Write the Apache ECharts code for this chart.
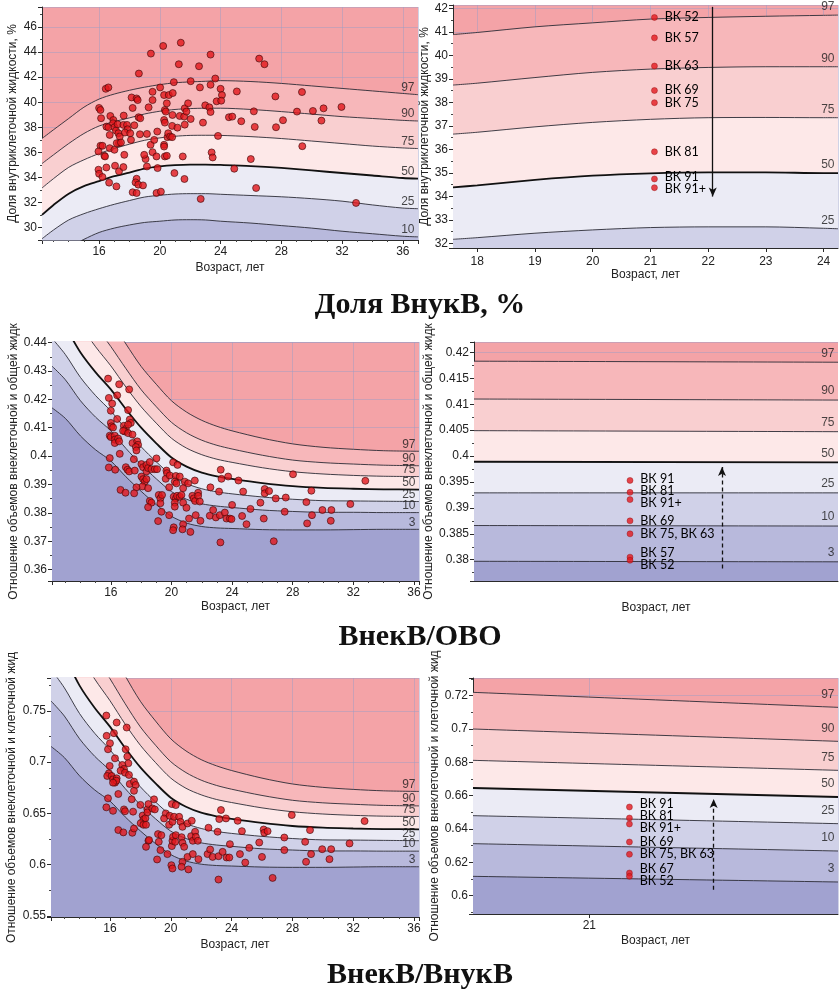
<!DOCTYPE html>
<html><head><meta charset="utf-8">
<script src="https://cdn.jsdelivr.net/npm/echarts@6/dist/echarts.min.js"></script>
<style>html,body{margin:0;padding:0;background:#fff}#c{width:840px;height:998px}</style>
</head><body><div id="c"></div>
<script>
// ================= DATA =================
const centileNames = ['97', '90', '75', '50', '25', '10', '3'];

// --- Panel A: share of intracellular water, % (full age range) ---
const agesA = [12.24, 13, 14, 15, 16, 17, 18, 19, 20, 21, 22, 23, 24, 26, 28, 30, 32, 34, 36, 37];
const icwA97 = [37.1, 37.8, 38.7, 39.6, 40.25, 40.65, 40.95, 41.2, 41.4, 41.55, 41.62, 41.67, 41.72, 41.65, 41.5, 41.3, 41.1, 40.9, 40.7, 40.6];
const icwA90 = [35.1, 35.8, 36.7, 37.5, 38.1, 38.45, 38.75, 39.06, 39.28, 39.42, 39.49, 39.52, 39.52, 39.42, 39.25, 39.05, 38.85, 38.7, 38.55, 38.5];
const icwA75 = [33.15, 33.9, 34.8, 35.4, 35.9, 36.3, 36.65, 36.96, 37.15, 37.28, 37.35, 37.36, 37.35, 37.25, 37.1, 36.9, 36.7, 36.5, 36.35, 36.3];
const icwA50 = [31.0, 31.8, 32.7, 33.3, 33.7, 34.1, 34.38, 34.7, 34.88, 34.98, 35.02, 35.02, 34.99, 34.9, 34.75, 34.55, 34.35, 34.15, 33.95, 33.9];
const icwA25 = [29.1, 29.8, 30.6, 31.1, 31.5, 31.85, 32.15, 32.43, 32.57, 32.67, 32.7, 32.7, 32.65, 32.55, 32.45, 32.3, 32.1, 31.8, 31.55, 31.5];
const icwA10 = [26.7, 27.5, 28.4, 29.05, 29.6, 29.95, 30.2, 30.4, 30.5, 30.6, 30.62, 30.6, 30.5, 30.35, 30.15, 29.95, 29.7, 29.5, 29.3, 29.25];
const icwPoints = [[16.0,39.54],[16.09,39.38],[16.13,38.72],[16.09,36.52],[16.22,36.52],[15.96,36.07],[15.96,34.61],[16.0,34.29],[16.22,34.03],[16.44,41.07],[16.61,41.18],[16.48,38.05],[16.61,38.0],[16.35,35.72],[16.39,35.67],[16.48,34.79],[16.66,33.58],[16.74,38.9],[16.7,37.39],[16.7,36.33],[16.94,38.58],[16.92,38.32],[17.01,38.0],[17.11,37.74],[17.27,37.52],[17.01,36.2],[17.05,34.93],[17.14,33.28],[17.22,38.24],[17.36,37.26],[17.31,36.73],[17.16,36.73],[17.44,36.78],[17.31,34.48],[17.6,38.19],[17.62,38.93],[17.66,35.8],[17.6,34.82],[17.84,38.19],[17.88,37.84],[17.7,37.58],[18.05,37.52],[18.1,36.99],[18.14,40.38],[18.21,39.54],[18.32,38.16],[18.21,32.81],[18.47,40.3],[18.54,40.17],[18.47,33.89],[18.4,33.6],[18.58,33.42],[18.89,33.36],[18.47,32.75],[18.62,42.29],[18.6,38.8],[18.71,38.72],[18.69,37.44],[19.06,35.46],[18.97,35.8],[19.15,37.47],[19.15,34.87],[19.26,39.59],[19.39,36.6],[19.41,43.88],[19.52,40.83],[19.52,40.17],[19.52,36.01],[19.63,36.99],[19.78,35.67],[19.83,37.66],[19.85,34.74],[19.78,32.75],[20.07,32.86],[20.02,41.18],[20.22,44.49],[20.28,40.57],[20.28,36.6],[20.28,36.46],[20.33,39.38],[20.39,39.25],[20.28,38.58],[20.33,38.37],[20.33,35.67],[20.46,35.72],[20.46,39.91],[20.5,37.21],[20.55,37.52],[20.59,40.57],[20.68,37.26],[20.81,37.21],[20.83,38.98],[20.81,38.11],[20.85,40.73],[20.92,41.6],[20.96,34.34],[21.16,37.97],[21.25,43.03],[21.38,44.75],[21.31,38.9],[21.51,35.67],[21.6,38.85],[21.64,38.21],[21.64,39.51],[21.75,39.25],[21.62,33.87],[21.86,39.91],[22.03,41.68],[22.03,38.66],[22.58,42.87],[22.64,41.18],[22.69,32.28],[22.84,38.37],[22.99,39.75],[23.26,39.59],[23.34,41.39],[23.34,39.22],[23.34,43.8],[23.41,35.99],[23.48,35.59],[23.65,41.89],[23.74,40.07],[23.83,37.31],[24.0,41.07],[24.09,40.57],[24.04,40.12],[24.55,38.8],[24.77,38.85],[24.9,34.69],[25.07,40.86],[25.36,38.48],[25.99,35.46],[26.19,39.27],[26.25,38.03],[26.34,33.15],[26.54,43.48],[26.89,43.03],[27.61,40.46],[27.65,38.0],[28.11,38.56],[29.03,39.25],[29.36,40.81],[29.38,36.49],[30.08,39.3],[30.64,38.53],[30.78,39.51],[31.96,39.62],[32.92,31.96]];

// --- Panel B: share of intracellular water, % (zoomed) ---
const agesB = [17.58, 18, 19, 20, 21, 22, 23, 24, 24.25];
const icwB97 = [40.89, 40.98, 41.22, 41.39, 41.55, 41.62, 41.67, 41.71, 41.72];
const icwB90 = [38.74, 38.82, 39.06, 39.28, 39.42, 39.49, 39.52, 39.52, 39.52];
const icwB75 = [36.65, 36.73, 36.96, 37.15, 37.28, 37.35, 37.36, 37.35, 37.35];
const icwB50 = [34.38, 34.47, 34.7, 34.88, 34.98, 35.02, 35.02, 34.99, 34.99];
const icwB25 = [32.17, 32.24, 32.43, 32.57, 32.67, 32.7, 32.7, 32.64, 32.62];
const vkNamesB = ['ВК 52', 'ВК 57', 'ВК 63', 'ВК 69', 'ВК 75', 'ВК 81', 'ВК 91', 'ВК 91+'];
const vkValuesB = [41.62, 40.75, 39.55, 38.51, 37.99, 35.90, 34.74, 34.37];
const vkAgeB = 21.07;
const arrowB = { age: 22.08, from: 42.07, to: 33.99 };

// --- Panel C: ECW / TBW (full age range) ---
const agesC = [12.12, 13, 14, 15, 16, 17, 18, 19, 20, 21, 22, 23, 24, 26, 28, 30, 32, 34, 36.33];
const ecwC97 = [0.4858, 0.4766, 0.4649, 0.4558, 0.4478, 0.4395, 0.4316, 0.4253, 0.4195, 0.4155, 0.4126, 0.4105, 0.4089, 0.4063, 0.4043, 0.4031, 0.4024, 0.4019, 0.4017];
const ecwC90 = [0.4730, 0.4648, 0.4541, 0.4459, 0.4386, 0.4308, 0.4234, 0.4174, 0.4119, 0.4082, 0.4056, 0.4038, 0.4025, 0.4003, 0.3986, 0.3977, 0.3972, 0.3968, 0.3966];
const ecwC75 = [0.4635, 0.4561, 0.4462, 0.4385, 0.4318, 0.4243, 0.4174, 0.4116, 0.4063, 0.4028, 0.4005, 0.3989, 0.3978, 0.3959, 0.3945, 0.3937, 0.3932, 0.3929, 0.3928];
const ecwC50 = [0.4520, 0.4455, 0.4365, 0.4295, 0.4235, 0.4165, 0.4100, 0.4045, 0.3995, 0.3963, 0.3942, 0.3929, 0.3920, 0.3905, 0.3894, 0.3888, 0.3885, 0.3883, 0.3882];
const ecwC25 = [0.4415, 0.4358, 0.4277, 0.4213, 0.4159, 0.4094, 0.4033, 0.3980, 0.3933, 0.3903, 0.3885, 0.3874, 0.3867, 0.3856, 0.3848, 0.3843, 0.3842, 0.3841, 0.3840];
const ecwC10 = [0.4317, 0.4269, 0.4195, 0.4137, 0.4089, 0.4027, 0.3970, 0.3920, 0.3875, 0.3848, 0.3832, 0.3824, 0.3819, 0.3810, 0.3805, 0.3802, 0.3802, 0.3801, 0.3801];
const ecwC3 = [0.4170, 0.4133, 0.4071, 0.4022, 0.3983, 0.3927, 0.3876, 0.3829, 0.3788, 0.3764, 0.3752, 0.3747, 0.3745, 0.3741, 0.3740, 0.3740, 0.3741, 0.3742, 0.3742];
const ecwPoints = [[15.82,0.4273],[15.87,0.4205],[16.09,0.4185],[16.0,0.416],[16.0,0.4117],[16.04,0.4105],[16.15,0.4101],[16.42,0.4214],[16.55,0.4253],[17.21,0.4235],[16.42,0.4131],[15.93,0.4072],[16.0,0.4067],[16.26,0.4072],[16.26,0.4058],[16.26,0.4046],[16.48,0.4062],[16.55,0.4052],[16.86,0.4107],[16.99,0.4096],[16.92,0.4087],[17.14,0.4162],[17.25,0.4129],[17.32,0.4117],[17.14,0.4111],[16.81,0.4089],[17.14,0.4081],[17.43,0.4076],[17.43,0.4046],[17.74,0.4052],[17.8,0.404],[17.65,0.4032],[17.69,0.402],[16.59,0.4008],[15.93,0.3993],[15.87,0.396],[16.29,0.3952],[16.99,0.3961],[17.1,0.3952],[17.21,0.3946],[17.52,0.3989],[17.58,0.3949],[18.02,0.3972],[18.13,0.3961],[18.35,0.3969],[18.35,0.3946],[18.46,0.3958],[18.57,0.3979],[18.68,0.3954],[18.9,0.3954],[19.05,0.3954],[19.01,0.3992],[18.02,0.3928],[18.13,0.3919],[18.24,0.391],[18.35,0.3919],[18.09,0.3893],[18.46,0.3887],[17.69,0.389],[17.54,0.3869],[16.64,0.3881],[16.97,0.3871],[18.57,0.3842],[18.68,0.3836],[18.46,0.382],[19.16,0.3863],[19.27,0.3851],[19.38,0.3863],[19.27,0.3834],[19.34,0.3804],[19.12,0.3771],[19.67,0.3949],[19.71,0.394],[19.62,0.392],[19.89,0.3932],[19.85,0.389],[19.85,0.3792],[20.11,0.3978],[20.4,0.3969],[20.29,0.393],[20.55,0.3928],[20.22,0.391],[20.33,0.3904],[20.15,0.3857],[20.29,0.3851],[20.37,0.386],[20.22,0.3836],[20.22,0.3822],[20.55,0.3857],[20.66,0.3863],[20.77,0.3887],[20.88,0.391],[20.77,0.3836],[20.15,0.3749],[20.11,0.3739],[20.77,0.376],[20.73,0.3742],[20.99,0.3818],[21.1,0.3904],[21.16,0.378],[21.25,0.3733],[21.38,0.386],[21.47,0.3851],[21.54,0.3914],[21.56,0.3842],[21.6,0.3792],[21.76,0.3871],[21.76,0.386],[21.87,0.384],[21.91,0.3772],[22.53,0.379],[22.57,0.389],[22.75,0.381],[22.93,0.3784],[23.14,0.3875],[23.19,0.3792],[23.25,0.3952],[23.3,0.392],[23.23,0.3696],[23.52,0.3801],[23.63,0.378],[23.74,0.3928],[23.85,0.378],[24.0,0.3828],[23.96,0.3778],[24.42,0.3914],[24.66,0.3789],[24.73,0.3875],[24.95,0.376],[25.21,0.3814],[25.87,0.3836],[26.15,0.3884],[26.15,0.3869],[26.09,0.378],[26.44,0.3877],[26.88,0.3851],[27.47,0.3804],[27.54,0.3854],[28.02,0.3936],[26.75,0.37],[28.9,0.3838],[28.95,0.3763],[29.23,0.3878],[29.27,0.3792],[29.96,0.381],[30.51,0.3772],[30.55,0.381],[31.8,0.3831],[32.79,0.3913]];

// --- Panel D: ECW / TBW (zoomed) ---
const agesD = [20.71, 21.62];
const ecwD97 = [0.4183, 0.4181];
const ecwD90 = [0.4110, 0.4108];
const ecwD75 = [0.4049, 0.4047];
const ecwD50 = [0.3989, 0.3988];
const ecwD25 = [0.3929, 0.3929];
const ecwD10 = [0.3866, 0.3865];
const ecwD3 = [0.3797, 0.3796];
const vkNamesD = ['ВК 91', 'ВК 81', 'ВК 91+', 'ВК 69', 'ВК 75, ВК 63', 'ВК 57', 'ВК 52'];
const vkValuesD = [0.3953, 0.3930, 0.3916, 0.3875, 0.3850, 0.3805, 0.3799];
const vkAgeD = 21.10;
const arrowD = { age: 21.33, from: 0.3783, to: 0.3979 };

// --- Panel E: ECW / ICW (full age range) ---
const agesE = [12.12, 13, 14, 15, 16, 17, 18, 19, 20, 21, 22, 23, 24, 26, 28, 30, 32, 34, 36.33];
const ratioE97 = [0.9448, 0.9106, 0.8688, 0.8376, 0.8109, 0.7841, 0.7593, 0.7400, 0.7227, 0.7109, 0.7024, 0.6964, 0.6918, 0.6844, 0.6787, 0.6754, 0.6734, 0.6720, 0.6714];
const ratioE90 = [0.8975, 0.8685, 0.8318, 0.8047, 0.7813, 0.7569, 0.7343, 0.7164, 0.7004, 0.6898, 0.6824, 0.6773, 0.6736, 0.6675, 0.6628, 0.6603, 0.6589, 0.6578, 0.6573];
const ratioE75 = [0.8639, 0.8386, 0.8057, 0.7809, 0.7599, 0.7370, 0.7164, 0.6995, 0.6844, 0.6745, 0.6681, 0.6636, 0.6606, 0.6554, 0.6516, 0.6494, 0.6481, 0.6473, 0.6470];
const ratioE50 = [0.8248, 0.8034, 0.7746, 0.7528, 0.7346, 0.7138, 0.6949, 0.6793, 0.6653, 0.6565, 0.6507, 0.6472, 0.6447, 0.6407, 0.6377, 0.6361, 0.6353, 0.6347, 0.6345];
const ratioE25 = [0.7905, 0.7724, 0.7473, 0.7280, 0.7120, 0.6932, 0.6759, 0.6611, 0.6483, 0.6401, 0.6353, 0.6324, 0.6305, 0.6276, 0.6255, 0.6242, 0.6240, 0.6237, 0.6234];
const ratioE10 = [0.7596, 0.7449, 0.7227, 0.7056, 0.6918, 0.6742, 0.6584, 0.6447, 0.6327, 0.6255, 0.6213, 0.6192, 0.6179, 0.6155, 0.6143, 0.6134, 0.6134, 0.6132, 0.6132];
const ratioE3 = [0.7153, 0.7044, 0.6866, 0.6728, 0.6620, 0.6466, 0.6329, 0.6205, 0.6098, 0.6036, 0.6005, 0.5992, 0.5987, 0.5977, 0.5974, 0.5974, 0.5977, 0.5980, 0.5980];
const ratioPoints = [[15.76,0.7454],[15.78,0.7256],[16.0,0.7184],[15.87,0.7125],[15.98,0.6963],[15.93,0.6891],[15.82,0.6865],[15.87,0.6647],[15.76,0.6559],[16.44,0.7386],[16.26,0.7282],[16.33,0.7037],[16.11,0.6865],[16.2,0.6832],[16.33,0.68],[16.44,0.6842],[16.42,0.6819],[16.2,0.68],[16.55,0.6689],[17.1,0.7337],[17.03,0.7125],[17.14,0.7054],[17.21,0.6989],[16.81,0.6972],[16.92,0.6933],[16.7,0.6917],[16.99,0.6897],[17.25,0.6875],[17.3,0.6787],[17.58,0.681],[17.69,0.6777],[17.43,0.6638],[17.58,0.672],[16.92,0.6539],[16.99,0.6521],[16.2,0.6525],[16.55,0.6338],[16.88,0.6315],[17.47,0.6311],[17.58,0.6353],[17.52,0.6517],[18.0,0.6583],[18.15,0.6479],[18.2,0.644],[18.33,0.6453],[18.02,0.6405],[18.2,0.6389],[18.37,0.6389],[18.46,0.6539],[18.53,0.6591],[18.46,0.651],[18.53,0.6233],[18.37,0.6174],[18.57,0.624],[18.9,0.6637],[18.79,0.6548],[18.95,0.6539],[19.16,0.6298],[19.21,0.6223],[19.38,0.6288],[19.32,0.6142],[19.1,0.6051],[19.67,0.65],[19.56,0.6451],[19.93,0.6477],[19.89,0.6389],[19.78,0.6103],[20.07,0.6591],[20.33,0.6581],[20.11,0.6418],[20.22,0.6467],[20.07,0.6181],[20.11,0.6233],[20.15,0.6272],[20.29,0.6223],[20.33,0.6288],[20.04,0.5995],[20.11,0.5963],[20.55,0.6467],[20.64,0.6418],[20.71,0.6268],[20.77,0.6369],[20.77,0.6213],[20.77,0.6028],[20.71,0.5979],[20.88,0.6174],[21.1,0.6402],[21.1,0.6076],[21.16,0.5954],[21.38,0.6428],[21.34,0.6278],[21.45,0.6233],[21.45,0.6103],[21.6,0.6321],[21.65,0.6272],[21.78,0.6233],[21.82,0.6054],[22.48,0.636],[22.42,0.6103],[22.59,0.6148],[22.75,0.6076],[23.08,0.6321],[23.14,0.6083],[23.19,0.6445],[23.3,0.6533],[23.14,0.5855],[23.41,0.6125],[23.63,0.6451],[23.67,0.607],[23.85,0.607],[23.89,0.62],[24.4,0.6428],[24.55,0.6103],[24.68,0.6327],[24.9,0.6021],[25.16,0.6164],[25.82,0.6216],[26.11,0.6343],[26.15,0.6311],[26.37,0.6327],[26.0,0.6076],[26.7,0.5871],[27.47,0.6265],[27.47,0.6142],[27.96,0.6484],[28.84,0.6223],[29.16,0.6337],[28.9,0.6028],[29.23,0.6103],[29.96,0.6151],[30.44,0.6054],[30.55,0.6151],[31.76,0.6207],[32.75,0.6425]];

// --- Panel F: ECW / ICW (zoomed) ---
const agesF = [20.71, 21.62];
const ratioF97 = [0.7220, 0.7130];
const ratioF90 = [0.7000, 0.6926];
const ratioF75 = [0.6812, 0.6752];
const ratioF50 = [0.6646, 0.6592];
const ratioF25 = [0.6480, 0.6432];
const ratioF10 = [0.6312, 0.6268];
const ratioF3 = [0.6116, 0.6082];
const vkNamesF = ['ВК 91', 'ВК 81', 'ВК 91+', 'ВК 69', 'ВК 75, ВК 63', 'ВК 67', 'ВК 52'];
const vkValuesF = [0.6532, 0.6466, 0.6430, 0.6322, 0.6248, 0.6136, 0.6116];
const vkAgeF = 21.10;
const arrowF = { age: 21.31, from: 0.6036, to: 0.6580 };

const titles = ['Доля ВнукВ, %', 'ВнекВ/ОВО', 'ВнекВ/ВнукВ'];
const xName = 'Возраст, лет';
const yNameA = 'Доля внутриклеточной жидкости, %';
const yNameC = 'Отношение объемов внеклеточной и общей жидк';
const yNameE = 'Отношение объемов внеклеточной и клеточной жид';

// ================= STYLE / LAYOUT =================
const FONT = "'Liberation Sans', Arial, sans-serif";
const SERIF = "'Liberation Serif', 'Times New Roman', serif";
const LABELFONT = "Lato, 'Liberation Sans', sans-serif";
const bandColors = ['#f4a3a7', '#f7b7ba', '#f9cfd0', '#fde8e8', '#ebebf5', '#d0d1e8', '#b8b9dc', '#a1a2d0'];
const GRIDC = 'rgba(150,158,200,0.45)';

const gridBoxes = [
  { left: 42, top: 7, width: 376, height: 233 },
  { left: 453, top: 5, width: 385, height: 243 },
  { left: 52, top: 342, width: 367, height: 239 },
  { left: 474, top: 342, width: 364, height: 239 },
  { left: 51, top: 678, width: 368, height: 239 },
  { left: 473, top: 678, width: 365, height: 236 }
];
const grids = gridBoxes.map(g => Object.assign({ show: true, backgroundColor: bandColors[0], borderWidth: 0, outerBoundsMode: 'none', containLabel: false }, g));

const yRanges = [
  { min: 29.0, max: 47.6, step: 2 },
  { min: 31.8, max: 42.15, step: 1 },
  { min: 0.356, max: 0.4402, step: 0.01 },
  { min: 0.3759, max: 0.422, step: 0.005 },
  { min: 0.549, max: 0.782, step: 0.05 },
  { min: 0.589, max: 0.7306, step: 0.02 }
];

function xAx(gi, min, max, step, extra) {
  return Object.assign({
    type: 'value', gridIndex: gi, min: min, max: max,
    minInterval: step, maxInterval: step, splitNumber: Math.max(1, Math.round((max - min) / step)),
    axisLine: { show: true, onZero: false, lineStyle: { color: '#2a2a2a', width: 1 } },
    axisTick: { show: true, length: 4, lineStyle: { color: '#2a2a2a' } },
    minorTick: { show: false },
    axisLabel: { show: true, showMinLabel: false, showMaxLabel: false, color: '#222', fontSize: 12, fontFamily: FONT, margin: 6 },
    splitLine: { show: true, lineStyle: { color: GRIDC, width: 1 } },
    name: xName, nameLocation: 'middle', nameGap: 21,
    nameTextStyle: { color: '#222', fontSize: 12, fontFamily: FONT }
  }, extra || {});
}
function yAx(gi, name, gap) {
  const r = yRanges[gi];
  return {
    type: 'value', gridIndex: gi, min: r.min, max: r.max,
    minInterval: r.step, maxInterval: r.step, splitNumber: Math.max(1, Math.round((r.max - r.min) / r.step)),
    axisLine: { show: true, onZero: false, lineStyle: { color: '#2a2a2a', width: 1 } },
    axisTick: { show: true, length: 4, lineStyle: { color: '#2a2a2a' } },
    minorTick: { show: true, splitNumber: 2, length: 2, lineStyle: { color: '#444' } },
    axisLabel: { show: true, showMinLabel: false, showMaxLabel: false, color: '#222', fontSize: 12, fontFamily: FONT, margin: 5 },
    splitLine: { show: true, lineStyle: { color: GRIDC, width: 1 } },
    name: name, nameLocation: 'middle', nameGap: gap, nameRotate: 90,
    nameTextStyle: { color: '#222', fontSize: 12, fontFamily: FONT }
  };
}

function centileSeries(gi, ages, curves, labelUp) {
  const out = [];
  curves.forEach((vals, i) => {
    const is50 = centileNames[i] === '50';
    out.push({
      type: 'line', xAxisIndex: gi, yAxisIndex: gi, silent: true,
      data: ages.map((a, k) => [a, vals[k]]),
      symbol: 'none', showSymbol: false, smooth: 0.3,
      lineStyle: { color: is50 ? '#111' : '#2b2b35', width: is50 ? 1.8 : 0.9 },
      areaStyle: { color: bandColors[i + 1], opacity: 1, origin: 'start' },
      z: 2
    });
  });
  out.push({
    type: 'scatter', xAxisIndex: gi, yAxisIndex: gi, silent: true,
    symbolSize: 1, itemStyle: { color: 'rgba(0,0,0,0)' },
    data: curves.map((vals, i) => ({ name: centileNames[i], value: [ages[ages.length - 1], vals[vals.length - 1]] })),
    label: { show: true, position: 'left', distance: 3, offset: [0, -labelUp], formatter: '{b}', color: '#1a1a1a', fontSize: 12, fontFamily: FONT },
    z: 4
  });
  return out;
}

function pointSeries(gi, pts) {
  return {
    type: 'scatter', xAxisIndex: gi, yAxisIndex: gi, silent: true,
    data: pts, symbolSize: 7,
    itemStyle: { color: '#e2161c', borderColor: '#3d0808', borderWidth: 0.8 },
    z: 6
  };
}

// vertical de-overlap of point labels (pixel offsets derived from the values)
function labelOffsets(gi, vals, gap) {
  const r = yRanges[gi], g = gridBoxes[gi];
  const ys = vals.map(v => g.top + g.height * (r.max - v) / (r.max - r.min));
  const pos = ys.slice();
  const order = ys.map((y, i) => i).sort((a, b) => ys[a] - ys[b]);
  for (let it = 0; it < 300; it++) {
    let moved = false;
    for (let k = 1; k < order.length; k++) {
      const a = order[k - 1], b = order[k];
      const d = pos[b] - pos[a];
      if (d < gap - 0.01) { const s = (gap - d) / 2; pos[a] -= s; pos[b] += s; moved = true; }
    }
    if (!moved) break;
  }
  return pos.map((p, i) => p - ys[i]);
}

function vkSeries(gi, age, names, vals, arrow, dashed) {
  const offs = labelOffsets(gi, vals, 12);
  return {
    type: 'scatter', xAxisIndex: gi, yAxisIndex: gi, silent: true,
    data: names.map((n, i) => ({ name: n, value: [age, vals[i]], label: { offset: [0, offs[i]] } })),
    symbolSize: 6,
    itemStyle: { color: '#e3191f', borderColor: '#8a0a0a', borderWidth: 0.5 },
    label: { show: true, position: 'right', distance: 7, formatter: '{b}', color: '#000', opacity: 1, textBorderWidth: 0, fontSize: 12.5, fontFamily: LABELFONT },
    emphasis: { disabled: true },
    markLine: {
      silent: true, symbol: ['none', 'arrow'], symbolSize: [6, 9], precision: 4,
      label: { show: false },
      lineStyle: { color: '#111', width: 1.3, type: dashed ? [4, 3] : 'solid' },
      data: [[{ coord: [arrow.age, arrow.from] }, { coord: [arrow.age, arrow.to] }]]
    },
    z: 7
  };
}

const titleStyle = { fontFamily: SERIF, fontWeight: 'bold', fontSize: 30, color: '#111' };
const option = {
  animation: false,
  backgroundColor: '#ffffff',
  title: [
    { text: titles[0], left: 'center', top: 285, textStyle: titleStyle },
    { text: titles[1], left: 'center', top: 617, textStyle: titleStyle },
    { text: titles[2], left: 'center', top: 955, textStyle: titleStyle }
  ],
  grid: grids,
  xAxis: [
    xAx(0, 12.24, 37, 4, { minorTick: { show: true, splitNumber: 4, length: 2, lineStyle: { color: '#444' } }, nameGap: 22 }),
    xAx(1, 17.58, 24.25, 1, { axisLabel: { showMinLabel: false, showMaxLabel: false, color: '#222', fontSize: 12, fontFamily: FONT, margin: 8 }, nameGap: 20 }),
    xAx(2, 12.12, 36.33, 4, { minorTick: { show: true, splitNumber: 4, length: 2, lineStyle: { color: '#444' } }, nameGap: 20 }),
    xAx(3, agesD[0], agesD[1], 1, { axisLabel: { show: false }, axisTick: { show: false }, splitLine: { show: false }, nameGap: 21 }),
    xAx(4, 12.12, 36.33, 4, { minorTick: { show: true, splitNumber: 4, length: 2, lineStyle: { color: '#444' } }, nameGap: 22 }),
    xAx(5, agesF[0], agesF[1], 1, { nameGap: 21 })
  ],
  yAxis: [
    yAx(0, yNameA, 23),
    yAx(1, yNameA, 22),
    yAx(2, yNameC, 32),
    yAx(3, yNameC, 36),
    yAx(4, yNameE, 33),
    yAx(5, yNameE, 31)
  ],
  series: [].concat(
    centileSeries(0, agesA, [icwA97, icwA90, icwA75, icwA50, icwA25, icwA10], 7),
    [pointSeries(0, icwPoints)],
    centileSeries(1, agesB, [icwB97, icwB90, icwB75, icwB50, icwB25], 8),
    [vkSeries(1, vkAgeB, vkNamesB, vkValuesB, arrowB, false)],
    centileSeries(2, agesC, [ecwC97, ecwC90, ecwC75, ecwC50, ecwC25, ecwC10, ecwC3], 7),
    [pointSeries(2, ecwPoints)],
    centileSeries(3, agesD, [ecwD97, ecwD90, ecwD75, ecwD50, ecwD25, ecwD10, ecwD3], 9),
    [vkSeries(3, vkAgeD, vkNamesD, vkValuesD, arrowD, true)],
    centileSeries(4, agesE, [ratioE97, ratioE90, ratioE75, ratioE50, ratioE25, ratioE10, ratioE3], 7),
    [pointSeries(4, ratioPoints)],
    centileSeries(5, agesF, [ratioF97, ratioF90, ratioF75, ratioF50, ratioF25, ratioF10, ratioF3], 13),
    [vkSeries(5, vkAgeF, vkNamesF, vkValuesF, arrowF, true)]
  )
};

const chart = echarts.init(document.getElementById('c'), null, { renderer: 'canvas', width: 840, height: 998 });
chart.setOption(option);
</script>
</body></html>
